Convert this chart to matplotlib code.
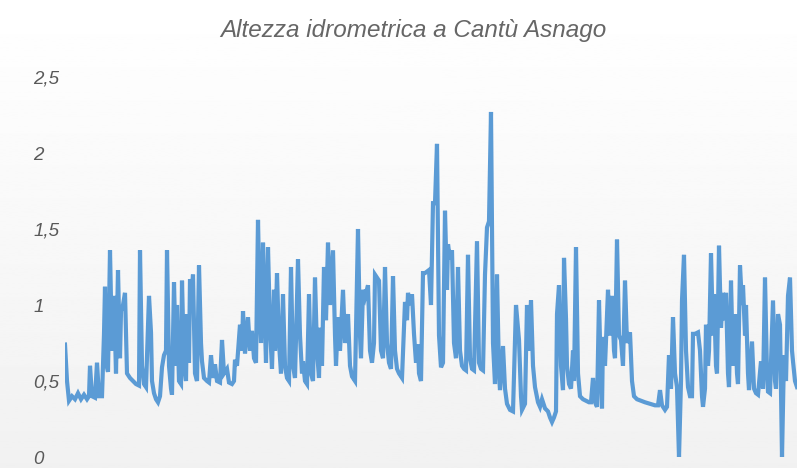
import matplotlib
matplotlib.use("Agg")
import matplotlib.pyplot as plt
import numpy as np

# dati (giorno progressivo, altezza in m)
giorno = [
    0, 2, 4, 7, 10, 13, 16, 19, 22, 24, 25, 27, 30, 32, 34, 37,
    39, 40, 41, 43, 45, 47, 49, 51, 53, 55, 56, 58, 60, 62, 65, 68, 71, 74, 75, 77, 79, 81, 84, 86, 87, 89, 91, 93, 95, 97, 99, 101, 102, 104, 106, 107,
    109, 111, 112, 114, 116, 117, 119, 121, 122, 124, 125, 127, 128, 130, 132, 134, 136, 137, 139, 142, 144, 146, 148, 150, 152, 155, 157, 159, 162, 164, 167, 169, 170, 172, 175, 177, 178, 180, 183, 185, 187, 189, 191,
    193, 195, 196, 198, 200, 201, 203, 205, 207, 209, 210, 212, 214, 216, 218, 220, 222, 224, 226, 228, 230, 233, 235, 237, 238, 240, 242, 244, 246, 248, 250, 252, 254, 255, 257, 259, 261, 263, 265, 268, 270, 271, 273, 275, 278, 280, 283, 285, 287, 290,
    293, 295, 296, 298, 300, 303, 305, 307, 309, 310, 312, 314, 316, 318, 320, 322, 324, 326, 328, 330, 332, 334, 337, 340, 342, 343, 345, 347, 349, 351, 353, 354, 356, 358, 360, 362, 364, 366, 368, 370, 372, 374, 376,
    378, 380, 382, 383, 385, 387, 389, 391, 393, 395, 397, 399, 401, 403, 405, 407, 409, 412, 414, 416, 418, 420, 422, 424, 426, 428, 430,
    432, 434, 435, 438, 440, 442, 445, 448, 451, 453, 454, 456, 457, 460, 462, 464, 466, 468, 470, 473, 475, 477, 480, 483, 485, 487, 489, 491, 492, 494, 496, 498, 499, 501, 502, 504, 506, 508, 509, 511, 513, 515, 518, 521, 524,
    526, 528, 530, 532, 534, 536, 537, 538, 540, 543, 545, 547, 549, 550, 552, 554, 556, 558, 560, 562, 565, 567, 569, 572, 576, 580, 585, 590, 593, 595, 597, 600, 602, 604, 606, 608, 610, 612, 614, 616, 617, 619, 621, 623, 625,
    627, 628, 630, 633, 635, 637, 638, 640, 641, 643, 644, 646, 648, 649, 651, 652, 654, 656, 658, 660, 661, 663, 664, 666, 668, 670, 672, 673, 675, 677, 678, 680, 681, 683, 684, 687, 689, 691, 693, 696, 698, 700, 702, 703, 705, 708, 710, 711, 713, 715, 716, 717, 719, 721, 723, 725, 727, 728, 730, 732,
]
livello = [
    0.74, 0.50, 0.37, 0.40, 0.38, 0.42, 0.38, 0.41, 0.38, 0.40, 0.60, 0.40, 0.39, 0.62, 0.40, 0.40,
    0.81, 1.12, 0.62, 0.56, 1.36, 0.70, 1.06, 0.55, 1.23, 0.65, 0.96, 1.00, 1.08, 0.55, 0.52, 0.50, 0.48, 0.47, 1.36, 0.60, 0.48, 0.46, 1.06, 0.82, 0.50, 0.42, 0.38, 0.36, 0.40, 0.59, 0.67, 0.70, 1.36, 0.60, 0.45, 0.41,
    1.15, 0.60, 1.00, 0.50, 0.48, 1.16, 0.60, 0.50, 0.94, 0.62, 1.17, 1.10, 1.20, 0.55, 0.50, 1.26, 0.75, 0.63, 0.52, 0.50, 0.49, 0.67, 0.52, 0.61, 0.50, 0.49, 0.77, 0.55, 0.58, 0.49, 0.48, 0.50, 0.64, 0.60, 0.87, 0.70, 0.96, 0.68, 0.92, 0.70, 0.83, 0.65, 0.62,
    1.56, 0.90, 0.75, 1.41, 0.85, 0.62, 1.38, 0.85, 0.58, 1.10, 0.70, 1.21, 0.75, 0.55, 1.07, 0.60, 0.52, 0.50, 1.25, 0.60, 0.52, 1.30, 0.80, 0.55, 0.63, 0.50, 0.48, 1.07, 0.55, 0.50, 1.18, 0.70, 0.52, 0.85, 0.60, 1.25, 0.90, 1.41, 1.00, 1.36, 0.80, 0.60, 0.92, 0.70, 1.10, 0.75, 0.94, 0.60, 0.53, 0.50,
    1.50, 0.80, 0.65, 1.10, 1.05, 1.13, 0.70, 0.62, 0.75, 1.20, 1.18, 1.16, 0.70, 0.65, 1.25, 0.75, 0.62, 0.58, 1.19, 0.70, 0.58, 0.55, 0.52, 1.02, 0.90, 1.08, 1.00, 1.07, 0.81, 0.62, 0.74, 0.55, 0.50, 1.21, 1.21, 1.22, 1.23, 1.00, 1.67, 1.67, 2.06, 0.80, 0.59,
    0.62, 1.62, 1.10, 1.40, 1.30, 1.36, 0.75, 0.65, 1.25, 0.70, 0.60, 0.58, 0.57, 1.33, 0.65, 0.58, 0.57, 1.42, 0.62, 0.58, 0.57, 1.20, 1.51, 1.55, 2.27, 0.75, 0.48,
    1.20, 0.55, 0.44, 0.73, 0.45, 0.35, 0.31, 0.30, 1.00, 0.85, 0.77, 0.40, 0.31, 0.35, 1.00, 0.70, 1.03, 0.60, 0.46, 0.36, 0.33, 0.38, 0.32, 0.30, 0.26, 0.23, 0.26, 0.30, 0.94, 1.13, 0.60, 0.44, 1.31, 0.91, 0.60, 0.48, 0.45, 0.70, 0.50, 1.38, 0.55, 0.40, 0.38, 0.37, 0.36,
    0.36, 0.52, 0.36, 0.33, 1.03, 0.50, 0.32, 0.79, 0.60, 1.10, 0.80, 1.06, 0.70, 0.65, 1.43, 0.80, 0.77, 0.60, 1.16, 0.75, 0.82, 0.50, 0.40, 0.38, 0.37, 0.36, 0.35, 0.34, 0.34, 0.44, 0.34, 0.31, 0.33, 0.67, 0.45, 0.92, 0.55, 0.46, 0.00, 0.50, 1.03, 1.33, 0.70, 0.46, 0.40,
    0.40, 0.81, 0.81, 0.82, 0.70, 0.40, 0.33, 0.45, 0.87, 0.60, 0.70, 1.34, 0.80, 1.07, 0.60, 0.55, 1.39, 0.85, 1.08, 0.90, 1.08, 0.55, 0.46, 1.16, 0.60, 0.94, 0.55, 0.48, 1.26, 1.00, 1.13, 0.80, 1.00, 0.55, 0.44, 0.76, 0.45, 0.42, 0.41, 0.63, 0.45, 1.18, 0.55, 0.43, 0.42, 1.03, 0.50, 0.45, 0.94, 0.87, 0.45, 0.00, 0.67, 0.50, 1.06, 1.18, 0.70, 0.63, 0.50, 0.46,
]
n = min(len(giorno), len(livello))
giorno = giorno[:n]
livello = livello[:n]

y_ticks = [0, 0.5, 1, 1.5, 2, 2.5]
y_labels = ["0", "0,5", "1", "1,5", "2", "2,5"]

grigio = "#595959"
font = ["Liberation Sans Narrow", "Liberation Sans", "DejaVu Sans"]

fig = plt.figure(figsize=(7.97, 4.68), dpi=100)

# sfondo sfumato bianco -> grigio chiaro
bg = fig.add_axes([0, 0, 1, 1], zorder=0)
sfuma = np.linspace(1.0, 0.945, 256).reshape(-1, 1)
bg.imshow(sfuma, aspect="auto", cmap="gray", vmin=0, vmax=1, extent=[0, 1, 0, 1])
bg.axis("off")

ax = fig.add_axes([65 / 797, 11 / 468, 732 / 797, 380 / 468], zorder=1)
ax.patch.set_alpha(0)
ax.plot(giorno, livello, color="#5B9BD5", linewidth=3.0, solid_joinstyle="miter")
ax.set_xlim(0, 732)
ax.set_ylim(0, 2.5)
ax.set_xticks([])
ax.set_yticks(y_ticks)
ax.set_yticklabels(y_labels, family=font, style="italic", fontsize=13.5, color=grigio)
for lab in ax.get_yticklabels():
    lab.set_ha("left")
ax.tick_params(axis="y", length=0, pad=23)
for s in ax.spines.values():
    s.set_visible(False)

fig.text(0.518, 0.935, "Altezza idrometrica a Cantù Asnago", family=font, style="italic",
         fontsize=17.5, color="#666666", ha="center", va="center")

fig.savefig("out.png", dpi=100)
